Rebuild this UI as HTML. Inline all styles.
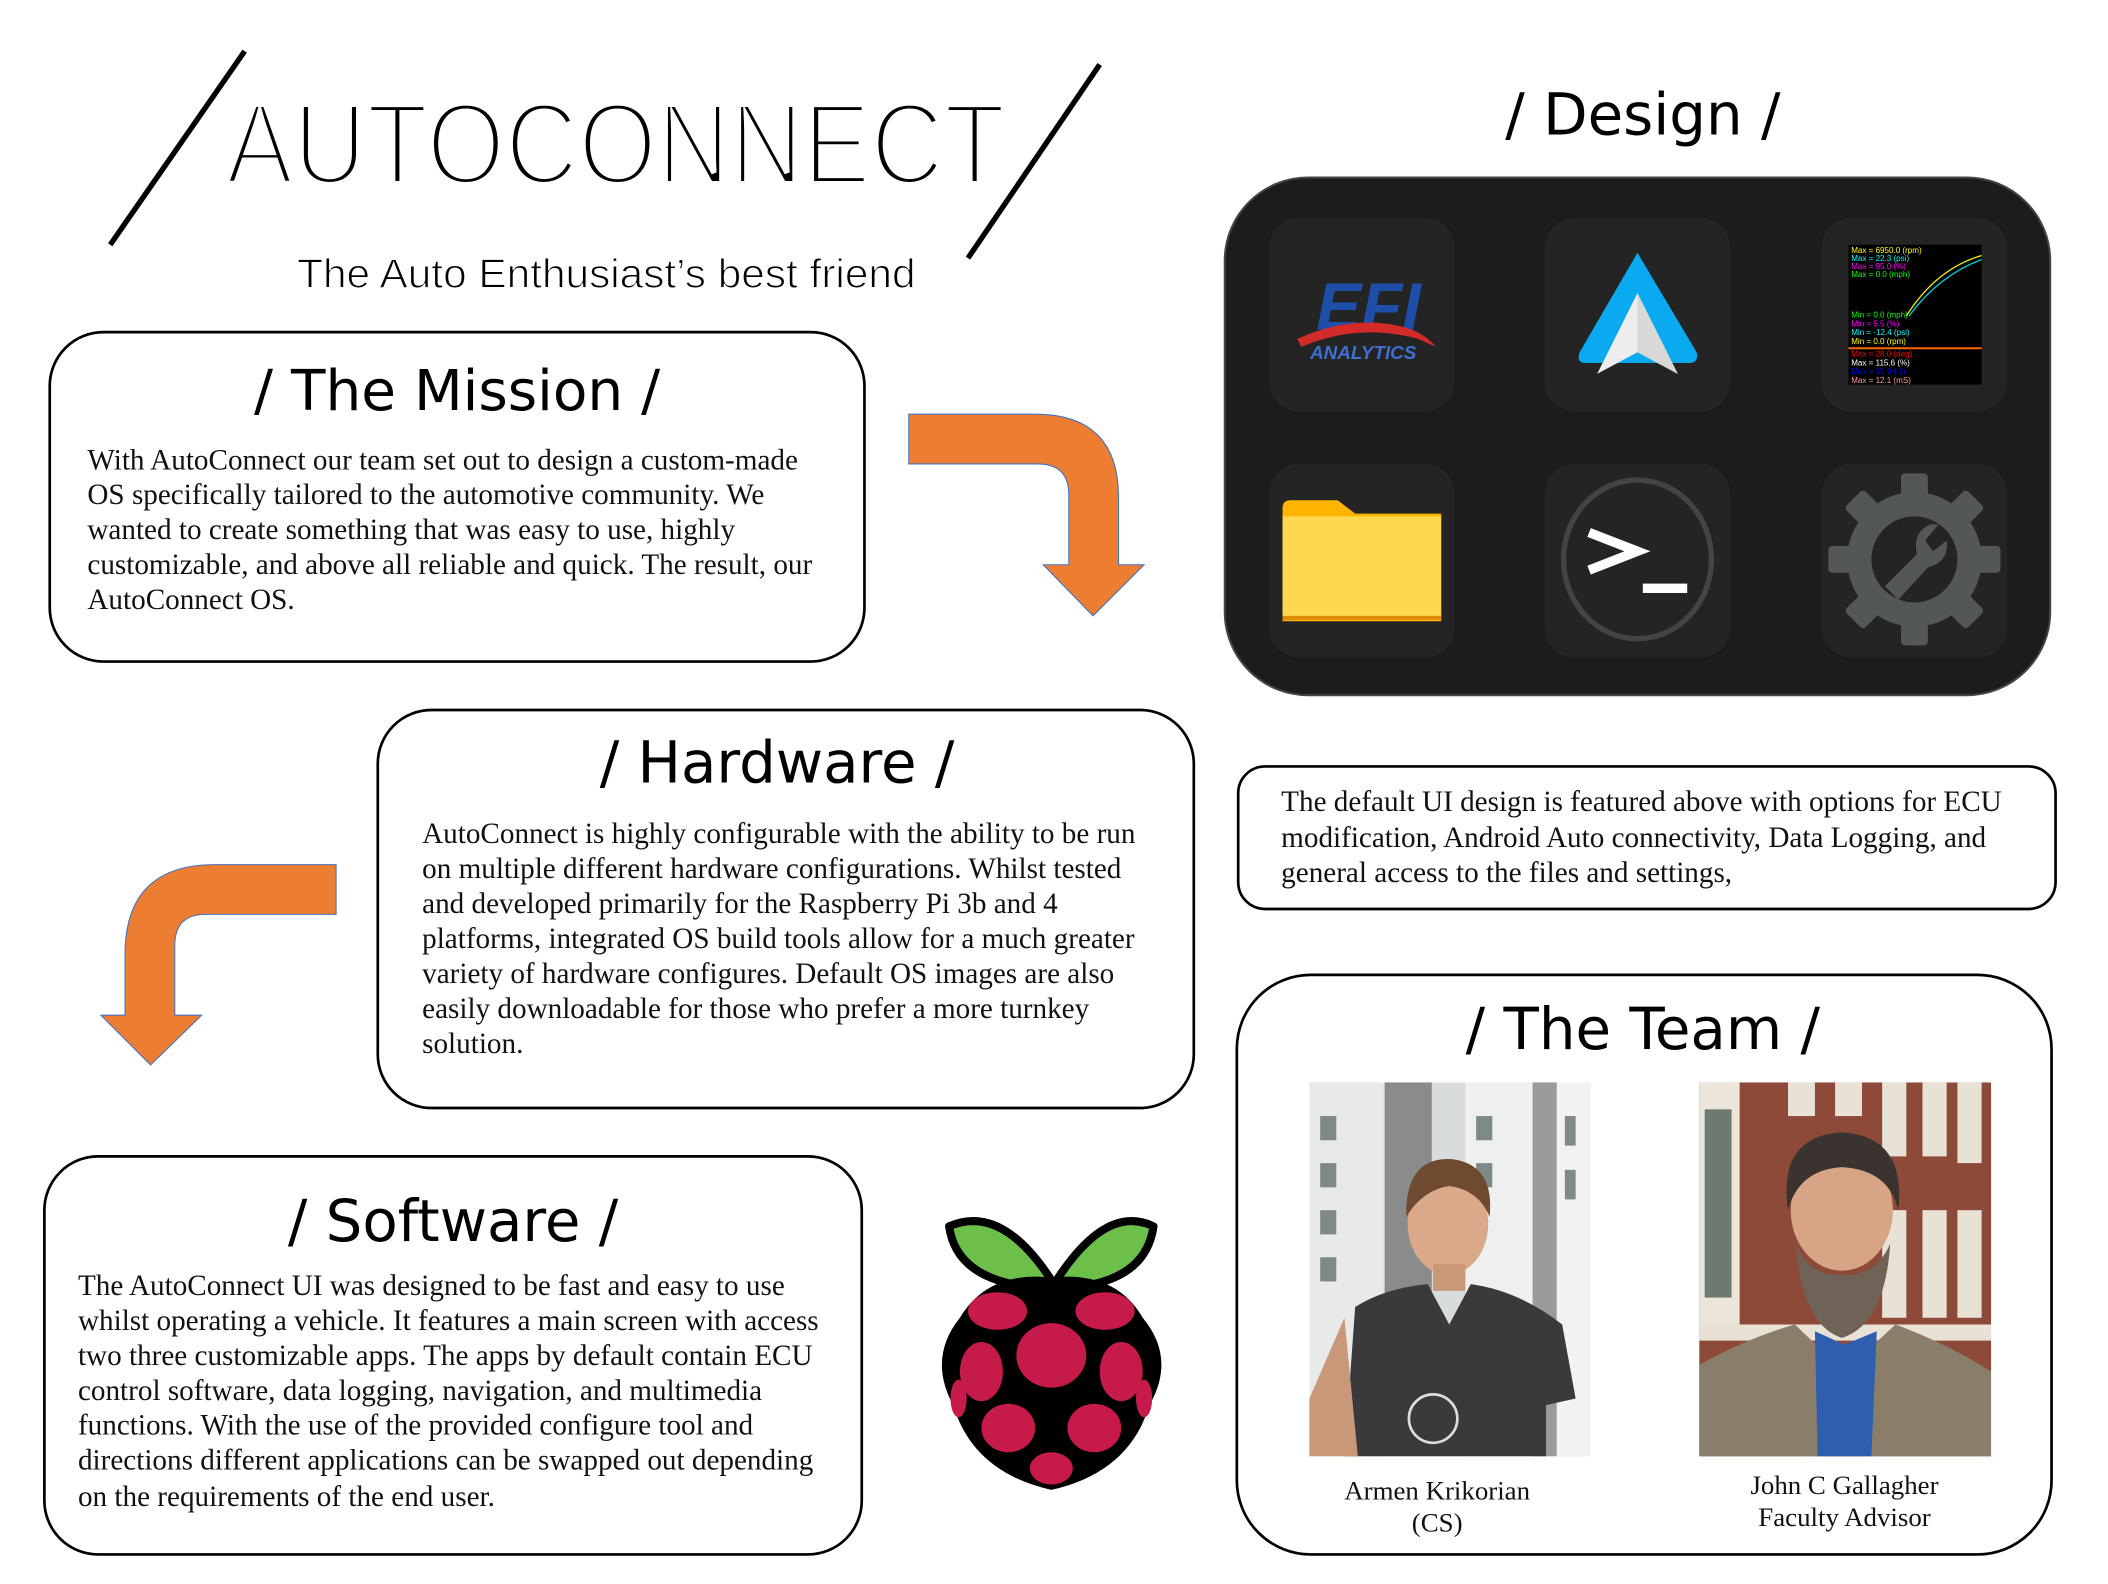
<!DOCTYPE html>
<html><head><meta charset="utf-8"><style>
html,body{margin:0;padding:0;background:#fff;width:2108px;height:1584px;overflow:hidden}
svg{display:block}
.s{font-family:"Liberation Serif",serif;font-size:21.7px;fill:#111}
.t{font-family:"DejaVu Sans","Liberation Sans",sans-serif;font-weight:normal;fill:#000}
</style></head><body>
<svg width="2108" height="1584" viewBox="0 0 1568 1178" preserveAspectRatio="none" xmlns="http://www.w3.org/2000/svg">
<!-- header -->
<line x1="82" y1="182" x2="182" y2="38" stroke="#000" stroke-width="4"/>
<line x1="720" y1="192" x2="818" y2="48" stroke="#000" stroke-width="4"/>
<text x="168" y="137" font-family="Liberation Sans,sans-serif" font-size="86" textLength="580" lengthAdjust="spacingAndGlyphs" fill="#000" stroke="#fff" stroke-width="4.5">AUTOCONNECT</text>
<text x="221" y="214" font-family="Liberation Sans,sans-serif" font-size="30" textLength="460" lengthAdjust="spacingAndGlyphs" stroke="#fff" stroke-width="0.8">The Auto Enthusiast’s best friend</text>

<!-- Mission -->
<rect x="37" y="247" width="606" height="245" rx="40" fill="#fff" stroke="#000" stroke-width="2"/>
<text class="t" x="340" y="305" font-size="42" text-anchor="middle">/ The Mission /</text>
<g class="s">
<text x="65" y="349">With AutoConnect our team set out to design a custom-made</text>
<text x="65" y="375">OS specifically tailored to the automotive community. We</text>
<text x="65" y="401">wanted to create something that was easy to use, highly</text>
<text x="65" y="427">customizable, and above all reliable and quick. The result, our</text>
<text x="65" y="453">AutoConnect OS.</text>
</g>

<!-- arrows -->
<path d="M676,308 L770,308 Q832,308 832,370 L832,420 L851,420 L813,458 L776,420 L795,420 L795,368 Q795,345 772,345 L676,345 Z" fill="#ED7D31" stroke="#4472C4" stroke-width="0.8"/>
<path d="M250,643 L160,643 Q93,643 93,710 L93,755 L75,755 L112,792 L150,755 L130,755 L130,703 Q130,680 153,680 L250,680 Z" fill="#ED7D31" stroke="#4472C4" stroke-width="0.8"/>

<!-- Design -->
<text class="t" x="1222" y="100" font-size="43" text-anchor="middle">/ Design /</text>
<rect x="911" y="132" width="614" height="385" rx="62" fill="#1c1c1c" stroke="#444" stroke-width="1.5"/>
<g fill="#242424">
<rect x="944" y="162" width="138" height="144" rx="22"/>
<rect x="1149" y="162" width="138" height="144" rx="22"/>
<rect x="1355" y="162" width="138" height="144" rx="22"/>
<rect x="944" y="345" width="138" height="144" rx="22"/>
<rect x="1149" y="345" width="138" height="144" rx="22"/>
<rect x="1355" y="345" width="138" height="144" rx="22"/>
</g>
<!-- EFI -->
<text x="1018" y="245" font-family="Liberation Sans,sans-serif" font-style="italic" font-weight="bold" font-size="50" fill="#1d4fa8" text-anchor="middle">EFI</text>
<path d="M965,252 Q1010,232 1050,245 Q1062,250 1068,258 L1055,252 Q1010,240 968,258 Z" fill="#d32a2a"/>
<text x="1014" y="267" font-family="Liberation Sans,sans-serif" font-style="italic" font-weight="bold" font-size="14" fill="#3f6fd0" text-anchor="middle">ANALYTICS</text>
<!-- android auto -->
<path d="M1218,188 L1262,262 Q1264,270 1256,270 L1180,270 Q1172,270 1175,262 Z" fill="#0aaaf0"/>
<path d="M1218,218 L1248,278 L1218,262 L1188,278 Z" fill="#eee"/>
<path d="M1218,218 L1248,278 L1218,262 Z" fill="#d8d8d8"/>
<!-- datalog -->
<rect x="1375" y="182" width="99" height="104" fill="#000"/>
<g font-family="Liberation Sans,sans-serif" font-size="6">
<text x="1377" y="188" fill="#ff0">Max = 6950.0 (rpm)</text>
<text x="1377" y="194" fill="#0ff">Max = 22.3 (psi)</text>
<text x="1377" y="200" fill="#f0f">Max = 95.0 (%)</text>
<text x="1377" y="206" fill="#0f0">Max = 0.0 (mph)</text>
<text x="1377" y="236" fill="#0f0">Min = 0.0 (mph)</text>
<text x="1377" y="243" fill="#f0f">Min = 5.5 (%)</text>
<text x="1377" y="249" fill="#0ff">Min = -12.4 (psi)</text>
<text x="1377" y="256" fill="#ff0">Min = 0.0 (rpm)</text>
<text x="1377" y="265" fill="#f00">Max = 28.0 (deg)</text>
<text x="1377" y="272" fill="#fff">Max = 115.6 (%)</text>
<text x="1377" y="278" fill="#00f">Max = 15.9 (:1)</text>
<text x="1377" y="285" fill="#f99">Max = 12.1 (mS)</text>
</g>
<path d="M1418,235 Q1440,200 1474,190" stroke="#ee0" fill="none"/>
<path d="M1420,235 Q1442,205 1474,193" stroke="#0cc" fill="none"/>
<line x1="1375" y1="259" x2="1474" y2="259" stroke="#f60" stroke-width="1.5"/>
<!-- folder -->
<path d="M954,378 Q954,372 960,372 L995,372 L1008,382 L1072,382 L1072,462 L954,462 Z" fill="#ffb400"/>
<rect x="954" y="384" width="118" height="76" fill="#ffd84f"/>
<rect x="954" y="458" width="118" height="3" fill="#e08a00"/>
<!-- terminal -->
<ellipse cx="1218" cy="416" rx="55" ry="59" fill="none" stroke="#444" stroke-width="4"/>
<path d="M1182,396 L1218,410 L1182,424" stroke="#fff" stroke-width="7" fill="none"/>
<rect x="1222" y="434" width="33" height="7" fill="#fff"/>
<!-- gear -->
<g transform="translate(1424,416)" fill="#545758">
<circle r="50"/>
<g>
<rect x="-10" y="-64" width="20" height="128" rx="3"/>
<rect x="-10" y="-64" width="20" height="128" rx="3" transform="rotate(45)"/>
<rect x="-10" y="-64" width="20" height="128" rx="3" transform="rotate(90)"/>
<rect x="-10" y="-64" width="20" height="128" rx="3" transform="rotate(135)"/>
</g>
<circle r="32" fill="#242424"/>
<path d="M-22,20 L2,-4 Q-2,-20 12,-26 L18,-26 L8,-14 L14,-6 L24,-14 Q26,2 10,6 L-12,30 Z" fill="#545758"/>
</g>

<!-- design text box -->
<rect x="921" y="570" width="608" height="106" rx="20" fill="#fff" stroke="#000" stroke-width="2"/>
<g class="s">
<text x="953" y="603">The default UI design is featured above with options for ECU</text>
<text x="953" y="630">modification, Android Auto connectivity, Data Logging, and</text>
<text x="953" y="656">general access to the files and settings,</text>
</g>

<!-- Hardware -->
<rect x="281" y="528" width="607" height="296" rx="40" fill="#fff" stroke="#000" stroke-width="2"/>
<text class="t" x="578" y="582" font-size="43" text-anchor="middle">/ Hardware /</text>
<g class="s">
<text x="314" y="627">AutoConnect is highly configurable with the ability to be run</text>
<text x="314" y="653">on multiple different hardware configurations. Whilst tested</text>
<text x="314" y="679">and developed primarily for the Raspberry Pi 3b and 4</text>
<text x="314" y="705">platforms, integrated OS build tools allow for a much greater</text>
<text x="314" y="731">variety of hardware configures. Default OS images are also</text>
<text x="314" y="757">easily downloadable for those who prefer a more turnkey</text>
<text x="314" y="783">solution.</text>
</g>

<!-- Software -->
<rect x="33" y="860" width="608" height="296" rx="40" fill="#fff" stroke="#000" stroke-width="2"/>
<text class="t" x="337" y="923" font-size="43" text-anchor="middle">/ Software /</text>
<g class="s">
<text x="58" y="963">The AutoConnect UI was designed to be fast and easy to use</text>
<text x="58" y="989">whilst operating a vehicle. It features a main screen with access</text>
<text x="58" y="1015">two three customizable apps. The apps by default contain ECU</text>
<text x="58" y="1041">control software, data logging, navigation, and multimedia</text>
<text x="58" y="1067">functions. With the use of the provided configure tool and</text>
<text x="58" y="1093">directions different applications can be swapped out depending</text>
<text x="58" y="1120">on the requirements of the end user.</text>
</g>

<!-- Raspberry -->
<path d="M782,952 Q745,895 706,912 Q712,955 778,958 Z" fill="#6cc04a" stroke="#000" stroke-width="6" stroke-linejoin="round"/>
<path d="M786,952 Q823,895 858,912 Q852,955 790,958 Z" fill="#6cc04a" stroke="#000" stroke-width="6" stroke-linejoin="round"/>
<path d="M782,950 Q830,945 850,980 Q875,1010 855,1045 Q840,1095 782,1108 Q724,1095 709,1045 Q690,1010 714,980 Q735,945 782,950 Z" fill="#000"/>
<g fill="#c51a4a">
<ellipse cx="782" cy="1008" rx="26" ry="24"/>
<ellipse cx="742" cy="975" rx="22" ry="14"/>
<ellipse cx="822" cy="975" rx="22" ry="14"/>
<ellipse cx="730" cy="1020" rx="16" ry="22"/>
<ellipse cx="834" cy="1020" rx="16" ry="22"/>
<ellipse cx="750" cy="1062" rx="20" ry="18"/>
<ellipse cx="814" cy="1062" rx="20" ry="18"/>
<ellipse cx="782" cy="1092" rx="16" ry="12"/>
<ellipse cx="713" cy="1040" rx="6" ry="14"/>
<ellipse cx="851" cy="1040" rx="6" ry="14"/>
</g>

<!-- Team -->
<rect x="920" y="725" width="606" height="431" rx="55" fill="#fff" stroke="#000" stroke-width="2"/>
<text class="t" x="1222" y="780" font-size="43" text-anchor="middle">/ The Team /</text>
<!-- photo 1 -->
<rect x="974" y="805" width="209" height="278" fill="#d9dcdc"/>
<rect x="974" y="805" width="55" height="278" fill="#e8eaea"/>
<rect x="1030" y="805" width="35" height="230" fill="#8a8c8c"/>
<rect x="1090" y="805" width="50" height="278" fill="#eef0ef"/>
<rect x="1140" y="805" width="18" height="278" fill="#9a9c9a"/>
<rect x="1158" y="805" width="25" height="278" fill="#f2f2f0"/>
<g fill="#7d8a86"><rect x="982" y="830" width="12" height="18"/><rect x="982" y="865" width="12" height="18"/><rect x="982" y="900" width="12" height="18"/><rect x="982" y="935" width="12" height="18"/><rect x="1098" y="830" width="12" height="18"/><rect x="1098" y="865" width="12" height="18"/><rect x="1164" y="830" width="8" height="22"/><rect x="1164" y="870" width="8" height="22"/></g>
<ellipse cx="1077" cy="910" rx="30" ry="38" fill="#d9a98a"/>
<path d="M1046,905 Q1045,860 1080,862 Q1112,866 1108,905 Q1100,885 1078,882 Q1058,885 1046,905 Z" fill="#6e4a30"/>
<rect x="1066" y="940" width="24" height="20" fill="#c99878"/>
<path d="M1000,1083 L1008,972 Q1030,958 1062,955 L1078,985 L1094,955 Q1130,960 1162,985 L1172,1040 L1150,1045 L1150,1083 Z" fill="#3a3a3c"/>
<path d="M974,1040 L1000,980 L1010,1083 L974,1083 Z" fill="#c99878"/>
<circle cx="1066" cy="1055" r="18" fill="none" stroke="#ddd" stroke-width="2"/>
<!-- photo 2 -->
<rect x="1264" y="805" width="217" height="278" fill="#8e4a38"/>
<rect x="1264" y="805" width="30" height="180" fill="#ece6da"/>
<rect x="1268" y="825" width="20" height="140" fill="#6d7a70"/>
<g fill="#e8e2d6"><rect x="1330" y="805" width="20" height="25"/><rect x="1365" y="805" width="20" height="25"/><rect x="1400" y="805" width="18" height="55"/><rect x="1430" y="805" width="18" height="55"/><rect x="1456" y="805" width="18" height="60"/><rect x="1400" y="900" width="18" height="80"/><rect x="1430" y="900" width="18" height="80"/><rect x="1456" y="900" width="18" height="80"/><rect x="1264" y="985" width="217" height="12"/></g>
<path d="M1264,1083 L1264,1015 Q1300,995 1335,985 L1372,1020 L1410,985 Q1450,1000 1481,1020 L1481,1083 Z" fill="#8a7d6a"/>
<path d="M1350,990 L1372,1000 L1396,990 L1392,1083 L1352,1083 Z" fill="#2d5fae"/>
<ellipse cx="1370" cy="900" rx="38" ry="45" fill="#d8a486"/>
<path d="M1336,925 Q1340,985 1370,995 Q1402,985 1406,925 Q1395,950 1370,948 Q1346,950 1336,925 Z" fill="#6f6358"/>
<path d="M1330,900 Q1322,845 1370,842 Q1418,845 1412,900 Q1405,870 1370,868 Q1338,870 1330,900 Z" fill="#3b3330"/>
<g class="s" text-anchor="middle" style="font-size:20px">
<text x="1069" y="1115">Armen Krikorian</text>
<text x="1069" y="1139">(CS)</text>
<text x="1372" y="1111">John C Gallagher</text>
<text x="1372" y="1135">Faculty Advisor</text>
</g>
</svg>
</body></html>
